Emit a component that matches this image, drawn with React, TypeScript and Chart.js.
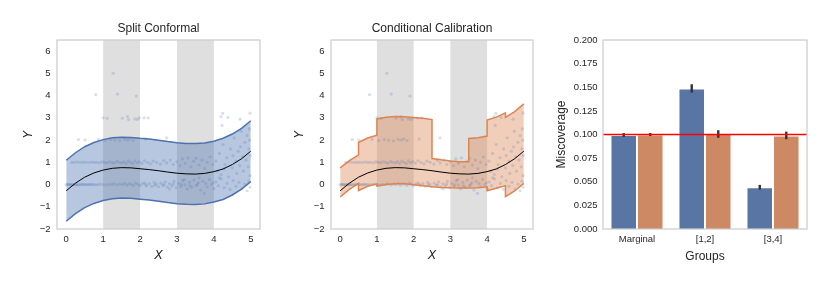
import React, { useEffect, useRef } from 'react';
import { Chart, registerables } from 'chart.js';

Chart.register(...registerables);

const FONT = "'Liberation Sans', Arial, sans-serif";
const MATH_FONT = "'DejaVu Sans', sans-serif";
const TEXT = '#262626';

// ---------- data: regression panels ----------
const gridX = [0, 0.25, 0.5, 0.75, 1, 1.25, 1.5, 1.75, 2, 2.25, 2.5, 2.75, 3, 3.25, 3.5, 3.75, 4, 4.25, 4.5, 4.75, 5];
const meanY = [-0.28, 0.06, 0.33, 0.52, 0.65, 0.73, 0.76, 0.75, 0.71, 0.67, 0.62, 0.56, 0.51, 0.48, 0.47, 0.5, 0.58, 0.7, 0.9, 1.16, 1.5];
const scUpper = [1.09, 1.43, 1.7, 1.89, 2.02, 2.1, 2.13, 2.12, 2.08, 2.05, 1.99, 1.93, 1.88, 1.85, 1.84, 1.87, 1.95, 2.08, 2.27, 2.53, 2.87];
const scLower = [-1.65, -1.31, -1.04, -0.85, -0.72, -0.64, -0.61, -0.62, -0.66, -0.7, -0.75, -0.81, -0.86, -0.89, -0.9, -0.87, -0.79, -0.67, -0.47, -0.21, 0.13];

const ccX = [0, 0.25, 0.5, 0.5, 0.75, 1, 1, 1.25, 1.5, 1.75, 2, 2.25, 2.5, 2.5, 2.75, 3, 3.25, 3.5, 3.5, 3.75, 4, 4, 4.25, 4.5, 4.5, 4.75, 5];
const ccUpper = [0.75, 1.07, 1.33, 1.9, 2.09, 2.22, 2.95, 3.03, 3.06, 3.05, 3.01, 2.98, 2.92, 1.17, 1.11, 1.06, 1.03, 1.02, 2.07, 2.1, 2.18, 2.9, 3.03, 3.22, 3.02, 3.28, 3.63];
const ccLower = [-0.56, -0.22, 0.05, -0.27, -0.08, 0.03, -0.07, 0.0, 0.04, 0.03, -0.01, -0.05, -0.1, -0.1, -0.13, -0.15, -0.16, -0.16, -0.16, -0.14, -0.1, -0.28, -0.17, -0.05, -0.55, -0.29, 0.05];

const baseRowPts = [
  [0.0, 0], [0.03, 0], [0.06, 0.01], [0.09, 0], [0.12, 0], [0.15, -0.01], [0.18, 0], [0.21, 0], [0.24, 0.01], [0.27, 0],
  [0.3, 0], [0.34, -0.01], [0.38, 0], [0.42, 0], [0.46, 0.01], [0.5, 0], [0.54, 0], [0.58, -0.01], [0.62, 0], [0.66, 0.01],
  [0.7, 0], [0.75, 0], [0.8, -0.01], [0.86, 0], [0.92, 0.02], [1.0, 0], [1.08, -0.02], [1.16, 0.01], [1.24, 0], [1.3, 0.03],
  [1.38, -0.02], [1.45, 0.02], [1.52, 0], [1.58, 0.05], [1.64, -0.03], [1.7, 0.04], [1.76, 0.02], [1.82, -0.04], [1.88, 0.06], [1.94, 0.01],
  [2.0, -0.05], [2.06, 0.03], [2.12, 0.08], [2.18, -0.06], [2.25, 0.04], [2.32, -0.08], [2.38, 0.1], [2.44, 0.02], [2.5, -0.1], [2.56, 0.06],
  [2.62, -0.04], [2.68, 0.12], [2.74, -0.12], [2.8, 0.03], [2.86, -0.06], [2.92, 0.15], [2.98, -0.15], [3.04, 0.05], [3.1, -0.08], [3.16, 0.18],
  [3.22, -0.02], [3.28, -0.2], [3.34, 0.1], [3.4, -0.12], [3.46, 0.2], [3.52, -0.05], [3.58, 0.08], [3.64, -0.25], [3.7, 0.15], [3.74, -0.4],
  [3.82, -0.1], [3.88, 0.22], [3.94, 0.0], [4.0, -0.18], [4.06, 0.12], [4.12, -0.05], [4.2, 0.25], [4.28, -0.15], [4.36, 0.05], [4.44, -0.22],
  [4.52, 0.18], [4.6, -0.08], [4.68, 0.1], [4.76, -0.2], [4.84, 0.02], [4.9, -0.28], [4.95, 0.15], [4.98, -0.12],
  [2.15, 0.0], [2.4, -0.03], [2.65, 0.0], [2.9, 0.02], [3.12, 0.0], [3.35, -0.05], [3.55, 0.0], [3.78, 0.05], [3.98, 0.08],
  [2.8, -0.2], [3.2, 0.22], [3.6, 0.3], [4.15, 0.3],
];
const oneRowPts = [
  [0.15, 1.0], [0.22, 1.0], [0.3, 1.01], [0.38, 0.99], [0.45, 1.0], [0.52, 1.0], [0.6, 0.99], [0.68, 1.01], [0.75, 1.0], [0.82, 1.0],
  [0.9, 0.98], [0.97, 1.02], [1.04, 1.0], [1.1, 0.98], [1.17, 1.02], [1.24, 1.0], [1.3, 0.96], [1.37, 1.04], [1.43, 1.0], [1.5, 0.97],
  [1.56, 1.03], [1.62, 0.95], [1.68, 1.05], [1.74, 1.0], [1.8, 0.94], [1.86, 1.06], [1.92, 0.98], [1.98, 1.03], [2.05, 0.96], [2.12, 1.07],
  [2.2, 0.99], [2.28, 0.93], [2.36, 1.05], [2.45, 1.0], [2.55, 0.92], [2.64, 1.08], [2.72, 0.97], [2.82, 1.1], [2.9, 0.9], [3.0, 1.02],
  [3.08, 0.85], [3.15, 1.15], [3.22, 0.95], [3.3, 1.2], [3.38, 0.8], [3.45, 1.05], [3.52, 1.18], [3.6, 0.88], [3.68, 1.1], [3.75, 0.72],
  [3.82, 1.0], [3.9, 1.25], [3.97, 0.9], [4.05, 1.05],
];
const spreadPts = [
  [4.1, 0.6], [4.15, 1.4], [4.2, 0.45], [4.25, 1.8], [4.3, 0.9], [4.35, 1.2], [4.4, 0.35], [4.45, 1.6], [4.5, 0.75], [4.55, 2.1],
  [4.6, 1.05], [4.62, 0.5], [4.66, 1.5], [4.7, 0.85], [4.74, 2.4], [4.78, 1.25], [4.8, 0.6], [4.84, 1.9], [4.87, 1.1], [4.9, 2.2],
  [4.93, 0.8], [4.95, 1.6], [4.97, 2.0], [4.99, 1.3], [4.98, 0.4], [4.96, 2.5], [4.72, 1.7], [4.52, 1.3], [4.28, 0.7],
];
const twoRowPts = [
  [0.33, 2.02], [0.51, 2.0], [0.87, 2.03], [1.05, 1.98], [1.2, 2.02], [1.32, 2.0], [1.45, 1.97], [1.58, 2.03], [1.66, 2.0],
  [1.73, 2.05], [1.82, 1.98], [2.15, 2.05], [2.72, 2.1],
];
const highPts = [
  [1.0, 3.0], [1.11, 2.98], [1.52, 2.98], [1.66, 3.05], [1.69, 2.92], [1.86, 2.95], [1.93, 2.93], [1.98, 3.0], [2.11, 3.0], [2.22, 3.0],
  [0.8, 4.04], [1.39, 4.07], [1.9, 3.98], [1.27, 5.0], [4.24, 3.2], [4.19, 3.05], [4.38, 3.02], [4.22, 2.66], [4.71, 2.94], [4.98, 3.21],
];

const xTicks = [0, 1, 2, 3, 4, 5];
const yTicks = [-2, -1, 0, 1, 2, 3, 4, 5, 6];
const shadedRanges = [[1, 2], [3, 4]];

// ---------- data: miscoverage bars ----------
const groups = ['Marginal', '[1,2]', '[3,4]'];
const scMiscov = [0.0995, 0.1488, 0.0442];
const ccMiscov = [0.1, 0.1005, 0.099];
const scErr = [0.002, 0.0044, 0.0025];
const ccErr = [0.0016, 0.004, 0.004];
const targetLevel = 0.1;
const missTicks = [0, 0.025, 0.05, 0.075, 0.1, 0.125, 0.15, 0.175, 0.2];

const BLUE = '#4C72B0';
const ORANGE = '#DD8452';

const toXY = (xs: number[], ys: number[]) => xs.map((x, i) => ({ x, y: ys[i] }));
const allPts = [...baseRowPts, ...oneRowPts, ...spreadPts, ...twoRowPts, ...highPts].map(([x, y]) => ({ x, y }));

const panelPlugin = {
  id: 'panel',
  beforeDraw(chart: any, _args: any, opts: any) {
    const { ctx, chartArea: a, scales } = chart;
    ctx.save();
    ctx.fillStyle = '#ffffff';
    ctx.fillRect(a.left, a.top, a.right - a.left, a.bottom - a.top);
    if (opts && opts.spans) {
      ctx.fillStyle = '#dfdfdf';
      for (const [s, e] of opts.spans) {
        const x0 = scales.x.getPixelForValue(s);
        const x1 = scales.x.getPixelForValue(e);
        ctx.fillRect(x0, a.top, x1 - x0, a.bottom - a.top);
      }
    }
    ctx.restore();
  },
  afterDatasetsDraw(chart: any, _args: any, opts: any) {
    const { ctx, chartArea: a, scales } = chart;
    ctx.save();
    if (opts && opts.errors) {
      ctx.strokeStyle = '#333333';
      ctx.lineWidth = 2.4;
      opts.errors.forEach((errs: number[], di: number) => {
        const meta = chart.getDatasetMeta(di);
        const vals = chart.data.datasets[di].data;
        meta.data.forEach((bar: any, i: number) => {
          const y0 = scales.y.getPixelForValue(vals[i] - errs[i]);
          const y1 = scales.y.getPixelForValue(vals[i] + errs[i]);
          ctx.beginPath();
          ctx.moveTo(bar.x, y0);
          ctx.lineTo(bar.x, y1);
          ctx.stroke();
        });
      });
    }
    if (opts && opts.hline !== undefined) {
      const y = scales.y.getPixelForValue(opts.hline);
      ctx.strokeStyle = '#ff0000';
      ctx.lineWidth = 1.5;
      ctx.beginPath();
      ctx.moveTo(a.left, y);
      ctx.lineTo(a.right, y);
      ctx.stroke();
    }
    ctx.strokeStyle = '#cccccc';
    ctx.lineWidth = 1.25;
    ctx.strokeRect(a.left, a.top, a.right - a.left, a.bottom - a.top);
    ctx.restore();
  },
};

const tickFont = { family: FONT, size: 9.5 };
const noGrid = { display: false, drawTicks: false, tickLength: 0 };
const minusFmt = (v: any) => (Number(v) < 0 ? '\u2212' + Math.abs(Number(v)) : String(v));

function regressionConfig(title: string, color: string, xs: number[], upper: number[], lower: number[], yTitlePad: number, rightPad: number) {
  return {
    type: 'scatter',
    data: {
      datasets: [
        {
          data: toXY(gridX, meanY), showLine: true, borderColor: '#000000', borderWidth: 1,
          pointRadius: 0, fill: false, tension: 0, order: 0,
        },
        {
          data: toXY(xs, upper), showLine: true, borderColor: color, borderWidth: 1.5,
          pointRadius: 0, fill: '+1', backgroundColor: color + '66', tension: 0, order: 1,
        },
        {
          data: toXY(xs, lower), showLine: true, borderColor: color, borderWidth: 1.5,
          pointRadius: 0, fill: false, tension: 0, order: 2,
        },
        {
          data: allPts, showLine: false, pointRadius: 1.6, pointBorderWidth: 0,
          pointBackgroundColor: 'rgba(76,114,176,0.22)', order: 3,
        },
      ],
    },
    options: {
      responsive: false,
      animation: false,
      devicePixelRatio: 1,
      events: [],
      layout: { padding: { left: 0, right: rightPad, top: 0, bottom: 0 } },
      plugins: {
        legend: { display: false },
        tooltip: { enabled: false },
        filler: { drawTime: 'beforeDatasetsDraw' },
        title: {
          display: true, text: title, color: TEXT, fullSize: false,
          font: { family: FONT, size: 12, weight: 'normal' },
          padding: { top: 21, bottom: 4.6 },
        },
        panel: { spans: shadedRanges },
      },
      scales: {
        x: {
          type: 'linear', min: -0.25, max: 5.25,
          grid: noGrid, border: { display: false },
          afterBuildTicks: (s: any) => { s.ticks = xTicks.map((v) => ({ value: v })); },
          afterFit: (s: any) => { s.height = 56; },
          ticks: { font: tickFont, color: TEXT, padding: 4.5, maxRotation: 0, callback: minusFmt },
          title: { display: true, text: 'X', color: TEXT, font: { family: MATH_FONT, size: 12, style: 'italic' }, padding: { top: 0, bottom: 21.8 } },
        },
        y: {
          type: 'linear', min: -2, max: 6.5,
          grid: noGrid, border: { display: false },
          afterBuildTicks: (s: any) => { s.ticks = yTicks.map((v) => ({ value: v })); },
          afterFit: (s: any) => { s.width = 57; },
          ticks: { font: tickFont, color: TEXT, padding: 6.5, callback: minusFmt },
          title: { display: true, text: 'Y', color: TEXT, font: { family: MATH_FONT, size: 12, style: 'italic' }, padding: { top: yTitlePad, bottom: 0 } },
        },
      },
    },
    plugins: [panelPlugin],
  };
}

function barConfig() {
  return {
    type: 'bar',
    data: {
      labels: groups,
      datasets: [
        {
          label: 'Split Conformal', data: scMiscov, backgroundColor: '#5975a4',
          borderColor: 'rgba(255,255,255,0.45)', borderWidth: 1, categoryPercentage: 0.78, barPercentage: 1,
        },
        {
          label: 'Conditional Calibration', data: ccMiscov, backgroundColor: '#cc8963',
          borderColor: 'rgba(255,255,255,0.45)', borderWidth: 1, categoryPercentage: 0.78, barPercentage: 1,
        },
      ],
    },
    options: {
      responsive: false,
      animation: false,
      devicePixelRatio: 1,
      events: [],
      layout: { padding: { left: 0, right: 23, top: 40, bottom: 0 } },
      plugins: {
        legend: { display: false },
        tooltip: { enabled: false },
        panel: { errors: [scErr, ccErr], hline: targetLevel },
      },
      scales: {
        x: {
          type: 'category', offset: true,
          grid: noGrid, border: { display: false },
          afterFit: (s: any) => { s.height = 56; },
          ticks: { font: tickFont, color: TEXT, padding: 4.5, maxRotation: 0 },
          title: { display: true, text: 'Groups', color: TEXT, font: { family: FONT, size: 12 }, padding: { top: 0, bottom: 20.8 } },
        },
        y: {
          type: 'linear', min: 0, max: 0.2,
          grid: noGrid, border: { display: false },
          afterBuildTicks: (s: any) => { s.ticks = missTicks.map((v) => ({ value: v })); },
          afterFit: (s: any) => { s.width = 53; },
          ticks: { font: tickFont, color: TEXT, padding: 5.5, callback: (v: any) => Number(v).toFixed(3) },
          title: { display: true, text: 'Miscoverage', color: TEXT, font: { family: FONT, size: 12 }, padding: { top: 4.5, bottom: 0 } },
        },
      },
    },
    plugins: [panelPlugin],
  };
}

function ChartCanvas({ left, width, makeConfig }: { left: number; width: number; makeConfig: () => any }) {
  const ref = useRef<HTMLCanvasElement | null>(null);
  useEffect(() => {
    if (!ref.current) return;
    const chart = new Chart(ref.current, makeConfig());
    return () => chart.destroy();
  }, []);
  return (
    <canvas
      ref={ref}
      width={width}
      height={285}
      style={{ position: 'absolute', left, top: 0, width, height: 285 }}
    />
  );
}

export default function App() {
  return (
    <div style={{ position: 'fixed', left: 0, top: 0, width: 830, height: 285, background: '#ffffff', overflow: 'hidden' }}>
      <ChartCanvas left={0} width={280} makeConfig={() => regressionConfig('Split Conformal', BLUE, gridX, scUpper, scLower, 22.1, 20)} />
      <ChartCanvas left={274} width={280} makeConfig={() => regressionConfig('Conditional Calibration', ORANGE, ccX, ccUpper, ccLower, 18.2, 21)} />
      <ChartCanvas left={550} width={280} makeConfig={barConfig} />
    </div>
  );
}
